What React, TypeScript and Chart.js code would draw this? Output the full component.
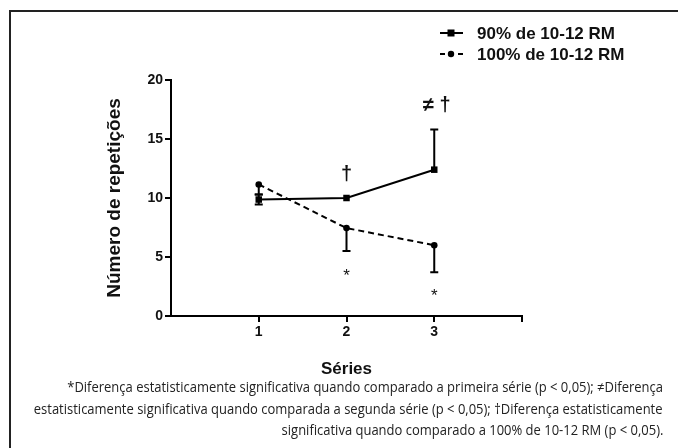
import React, { useEffect, useRef } from "react";
import { Chart, registerables } from "chart.js";

Chart.register(...registerables);

// ---- data ----
const categories = [1, 2, 3];
const xTickLabels = ["", "1", "2", "3", ""];
const yTicks = [0, 5, 10, 15, 20];
const seriesNames = ["90% de 10-12 RM", "100% de 10-12 RM"];
const pct90 = [9.87, 10.0, 12.4];
const pct100 = [11.15, 7.45, 6.0];
// error bar end points (null = no bar)
const err90Low = [9.45, null, null];
const err90High = [10.3, null, 15.8];
const err100Low = [10.3, 5.5, 3.7];
const err100High = [null, null, null];
const annotX = [2, 3.03, 2, 3];
const annotY = [12.0, 17.8, 3.4, 1.7];
const annotText = ["†", "≠ †", "*", "*"];
const xTitle = "Séries";
const yTitle = "Número de repetições";
const footnote = [
  "*Diferença estatisticamente significativa quando comparado a primeira série (p < 0,05); ≠Diferença",
  "estatisticamente significativa quando comparada a segunda série (p < 0,05); †Diferença estatisticamente",
  "significativa quando comparado a 100% de 10-12 RM (p < 0,05).",
];

const BOLD = "'Liberation Sans', Arial, sans-serif";

const extrasPlugin = {
  id: "extras",
  afterDatasetsDraw(chart: any) {
    const { ctx, scales, chartArea } = chart;
    const xs = scales.x;
    const ys = scales.y;
    ctx.save();
    ctx.strokeStyle = "#000";
    ctx.lineWidth = 2;
    const drawBar = (x: number, v0: number, v1: number | null) => {
      if (v1 === null || v1 === undefined) return;
      const px = xs.getPixelForValue(x);
      const p0 = ys.getPixelForValue(v0);
      const p1 = ys.getPixelForValue(v1);
      ctx.beginPath();
      ctx.moveTo(px, p0);
      ctx.lineTo(px, p1);
      ctx.moveTo(px - 4, p1);
      ctx.lineTo(px + 4, p1);
      ctx.stroke();
    };
    categories.forEach((c, i) => {
      drawBar(c, pct90[i], err90Low[i]);
      drawBar(c, pct90[i], err90High[i]);
      drawBar(c, pct100[i], err100Low[i]);
      drawBar(c, pct100[i], err100High[i]);
    });
    // annotations
    ctx.fillStyle = "#111";
    ctx.textAlign = "center";
    ctx.textBaseline = "middle";
    annotText.forEach((t, i) => {
      ctx.font = t === "*" ? `17px ${BOLD}` : `bold 20px ${BOLD}`;
      ctx.fillText(t, xs.getPixelForValue(annotX[i]), ys.getPixelForValue(annotY[i]));
    });
    // axis titles
    ctx.font = `bold 17px ${BOLD}`;
    ctx.fillText(xTitle, (chartArea.left + chartArea.right) / 2, 369);
    ctx.save();
    ctx.translate(115, (chartArea.top + chartArea.bottom) / 2);
    ctx.rotate(-Math.PI / 2);
    ctx.font = `bold 19px ${BOLD}`;
    ctx.fillText(yTitle, 0, 0);
    ctx.restore();
    // legend
    const legY = [33, 54];
    ctx.textAlign = "left";
    ctx.font = `bold 17px ${BOLD}`;
    legY.forEach((ly, i) => {
      ctx.beginPath();
      ctx.setLineDash(i === 0 ? [] : [5, 4]);
      ctx.moveTo(440, ly);
      ctx.lineTo(463, ly);
      ctx.stroke();
      ctx.setLineDash([]);
      ctx.fillStyle = "#000";
      if (i === 0) {
        ctx.fillRect(447.5, ly - 3.5, 7, 7);
      } else {
        ctx.beginPath();
        ctx.arc(451, ly, 3.2, 0, Math.PI * 2);
        ctx.fill();
      }
      ctx.fillStyle = "#111";
      ctx.fillText(seriesNames[i], 477, ly + 1);
    });
    ctx.restore();
  },
};

export default function App() {
  const ref = useRef<HTMLCanvasElement>(null);
  useEffect(() => {
    if (!ref.current) return;
    const chart = new Chart(ref.current, {
      type: "line",
      data: {
        datasets: [
          {
            label: seriesNames[0],
            data: categories.map((c, i) => ({ x: c, y: pct90[i] })),
            borderColor: "#000",
            backgroundColor: "#000",
            borderWidth: 2,
            pointStyle: "rect",
            pointRadius: 4.6,
            pointBorderWidth: 0,
            tension: 0,
          },
          {
            label: seriesNames[1],
            data: categories.map((c, i) => ({ x: c, y: pct100[i] })),
            borderColor: "#000",
            backgroundColor: "#000",
            borderWidth: 2,
            borderDash: [6, 4],
            pointStyle: "circle",
            pointRadius: 3.3,
            pointBorderWidth: 0,
            tension: 0,
          },
        ],
      },
      options: {
        animation: false,
        responsive: false,
        maintainAspectRatio: false,
        layout: { padding: { left: 0, top: 80, right: 156, bottom: 0 } },
        plugins: { legend: { display: false }, tooltip: { enabled: false } },
        scales: {
          x: {
            type: "linear",
            min: 0,
            max: 4,
            afterFit: (s: any) => {
              s.height = 132;
            },
            afterBuildTicks: (s: any) => {
              s.ticks = xTickLabels.map((_, i) => ({ value: i }));
            },
            ticks: {
              callback: (v: any) => xTickLabels[Number(v)],
              font: { family: BOLD, size: 14, weight: "bold" },
              color: "#111",
              padding: 2,
              maxRotation: 0,
            },
            grid: {
              drawOnChartArea: false,
              drawTicks: true,
              tickLength: 6,
              lineWidth: 2,
              color: (c: any) => (c.tick && c.tick.value === 0 ? "rgba(0,0,0,0)" : "#000"),
            },
            border: { display: true, color: "#000", width: 2 },
          },
          y: {
            type: "linear",
            min: 0,
            max: 20,
            afterFit: (s: any) => {
              s.width = 171;
            },
            afterBuildTicks: (s: any) => {
              s.ticks = yTicks.map((v) => ({ value: v }));
            },
            ticks: {
              font: { family: BOLD, size: 14, weight: "bold" },
              color: "#111",
              padding: 2,
            },
            grid: {
              drawOnChartArea: false,
              drawTicks: true,
              tickLength: 6,
              lineWidth: 2,
              color: "#000",
            },
            border: { display: true, color: "#000", width: 2 },
          },
        },
      },
      plugins: [extrasPlugin],
    });
    return () => chart.destroy();
  }, []);

  return (
    <div style={{ position: "fixed", left: 0, top: 0, width: 678, height: 448, background: "#fff", overflow: "hidden" }}>
      <canvas ref={ref} width={678} height={448} style={{ position: "absolute", left: 0, top: 0, width: 678, height: 448 }} />
      <div style={{ position: "absolute", left: 9, top: 10, width: 669, height: 438, borderTop: "2px solid #222", borderLeft: "2px solid #222", boxSizing: "border-box" }} />
      {footnote.map((t, i) => (
        <div
          key={i}
          style={{
            position: "absolute",
            right: 15,
            top: 377 + i * 21.5,
            whiteSpace: "nowrap",
            fontFamily: "'Open Sans', sans-serif",
            fontSize: 14,
            lineHeight: "19px",
            color: "#222",
            transform: "scaleX(0.928)",
            transformOrigin: "right center",
          }}
        >
          {t}
        </div>
      ))}
    </div>
  );
}
